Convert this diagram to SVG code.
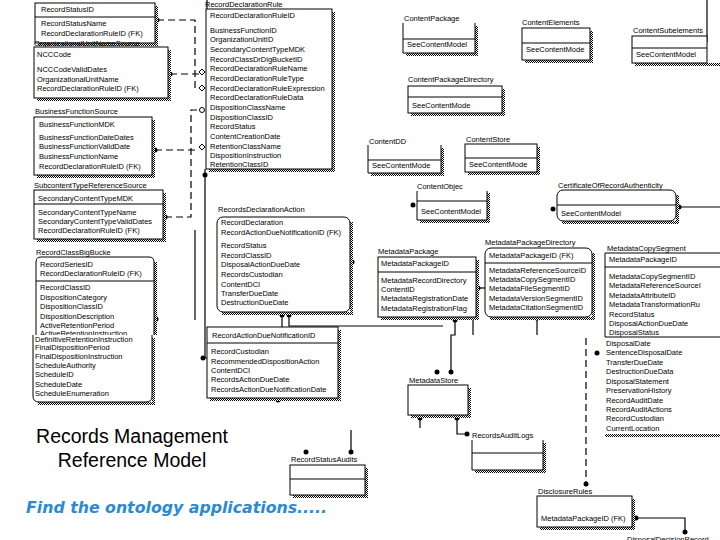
<svg xmlns="http://www.w3.org/2000/svg" width="720" height="540" viewBox="0 0 720 540">
<defs>
<pattern id="hatch" width="2" height="2" patternUnits="userSpaceOnUse"><rect width="2" height="2" fill="#fff"/><rect width="1" height="1" fill="#000"/><rect x="1" y="1" width="1" height="1" fill="#000"/></pattern>
</defs>
<style>
.b{fill:#fff;stroke:#000;stroke-width:1}
.h{fill:url(#hatch)}
.ln{stroke:#000;stroke-width:1;fill:none}
.t{font-family:"Liberation Sans",Arial,sans-serif;font-size:7.5px;fill:#000}
.c{stroke:#000;stroke-width:1.2;fill:none}
.d{stroke:#000;stroke-width:1.2;fill:none;stroke-dasharray:7,4}
.dot{fill:#000}
.hol{fill:#fff;stroke:#000;stroke-width:1}
.big{font-family:"Liberation Sans",Arial,sans-serif;font-size:19.5px;fill:#000;text-anchor:middle}
.blue{font-family:"DejaVu Sans",Verdana,sans-serif;font-size:16px;font-weight:bold;font-style:italic;fill:#2a8ad6}
</style>
<rect width="720" height="540" fill="#fff"/>

<g id="connectors">
<path class="d" d="M157,20 H195 V88 H201"/>
<path class="d" d="M170,74 H199"/>
<path class="d" d="M155,150 H199"/>
<path class="d" d="M165,217 H191 V110 H199"/>
<path class="c" d="M207,0 V9"/>
<path class="c" d="M205,169 V358 H207"/>
<path class="c" d="M195,230 V320"/>
<path class="c" d="M282,316 V328 H275 V334"/>
<path class="c" d="M289,316 V326 H443"/>
<path class="c" d="M455,319 V335 H451 V372"/>
<path class="c" d="M473,319 V335"/>
<path class="c" d="M476,288 H485"/>
<path class="c" d="M537,318 V335"/>
<path class="d" d="M586,338 V484"/>
<path class="c" d="M679,207 H720"/>
<path class="c" d="M707,0 V42"/>
<path class="c" d="M420,418 V428"/>
<path class="c" d="M457,418 V434 H467"/>
<path class="c" d="M351,430 V452"/>
<path class="c" d="M636,518 H685 V532"/>
<circle class="dot" cx="157" cy="20" r="2.5"/>
<circle class="dot" cx="170" cy="74" r="2.5"/>
<circle class="dot" cx="155" cy="150" r="2.5"/>
<circle class="dot" cx="165" cy="217" r="2.5"/>
<circle class="dot" cx="156" cy="319" r="2.5"/>
<circle class="dot" cx="205" cy="175" r="2.5"/>
<circle class="dot" cx="203" cy="358" r="2.5"/>
<circle class="dot" cx="352" cy="262" r="2.5"/>
<circle class="dot" cx="282" cy="315" r="2.5"/>
<circle class="dot" cx="289" cy="315" r="2.5"/>
<circle class="dot" cx="278" cy="400" r="2.5"/>
<circle class="dot" cx="455" cy="320" r="2.5"/>
<circle class="dot" cx="478" cy="288" r="2.5"/>
<circle class="dot" cx="537" cy="318" r="2.5"/>
<circle class="dot" cx="413" cy="205" r="2.5"/>
<circle class="dot" cx="553" cy="209" r="2.5"/>
<circle class="dot" cx="679" cy="207" r="2.5"/>
<circle class="dot" cx="597" cy="353" r="2.5"/>
<circle class="dot" cx="437" cy="372" r="2.5"/>
<circle class="dot" cx="451" cy="372" r="2.5"/>
<circle class="dot" cx="420" cy="418" r="2.5"/>
<circle class="dot" cx="457" cy="418" r="2.5"/>
<circle class="dot" cx="467" cy="434" r="2.5"/>
<circle class="dot" cx="306" cy="452" r="2.5"/>
<circle class="dot" cx="351" cy="452" r="2.5"/>
<circle class="dot" cx="586" cy="484" r="2.5"/>
<circle class="dot" cx="636" cy="518" r="2.5"/>
<circle class="dot" cx="685" cy="532" r="2.5"/>
<path class="hol" d="M199,72 l3,-3 l3,3 l-3,3 z"/>
<path class="hol" d="M199,88 l3,-3 l3,3 l-3,3 z"/>
<circle class="hol" cx="202" cy="110" r="2.5"/>
<path class="hol" d="M199,147 l3,-3 l3,3 l-3,3 z"/>
</g>

<g id="RecordStatus">
<rect class="h" x="155" y="6" width="3" height="40"/><rect class="h" x="38" y="43" width="120" height="3"/>
<rect class="b" x="35" y="3" width="120" height="40"/>
<line class="ln" x1="35" y1="17" x2="155" y2="17"/>
<text class="t" x="41" y="12">RecordStatusID</text>
<text class="t" x="41" y="26">RecordStatusName</text>
<text class="t" x="41" y="36">RecordDeclarationRuleID (FK)</text>
</g>

<g id="OrganizationalUnitNameSource">
<text class="t" x="34" y="46">OrganizationalUnitNameSource</text>
<rect class="h" x="168" y="50" width="3" height="51"/><rect class="h" x="37" y="98" width="134" height="3"/>
<rect class="b" x="34" y="47" width="134" height="51"/>
<text class="t" x="37" y="57">NCCCode</text>
<text class="t" x="37" y="72">NCCCodeValidDates</text>
<text class="t" x="37" y="82">OrganizationalUnitName</text>
<text class="t" x="37" y="91">RecordDeclarationRuleID (FK)</text>
</g>

<g id="BusinessFunctionSource">
<text class="t" x="35" y="114">BusinessFunctionSource</text>
<rect class="h" x="152" y="120" width="3" height="58"/><rect class="h" x="37" y="175" width="118" height="3"/>
<rect class="b" x="34" y="117" width="118" height="58"/>
<text class="t" x="39" y="127">BusinessFunctionMDK</text>
<text class="t" x="39" y="140">BusinessFunctionDateDates</text>
<text class="t" x="39" y="149">BusinessFunctionValidDate</text>
<text class="t" x="39" y="159">BusinessFunctionName</text>
<text class="t" x="39" y="169">RecordDeclarationRuleID (FK)</text>
</g>

<g id="RecordDeclarationRule">
<text class="t" x="205" y="7">RecordDeclarationRule</text>
<rect class="h" x="332" y="12" width="3" height="160"/><rect class="h" x="209" y="169" width="126" height="3"/>
<rect class="b" x="206" y="9" width="126" height="160"/>
<text class="t" x="210" y="18">RecordDeclarationRuleID</text>
<text class="t" x="210" y="33">BusinessFunctionID</text>
<text class="t" x="210" y="42">OrganizationUnitID</text>
<text class="t" x="210" y="52">SecondaryContentTypeMDK</text>
<text class="t" x="210" y="62">RecordClassDrDigBucketID</text>
<text class="t" x="210" y="71">RecordDeclarationRuleName</text>
<text class="t" x="210" y="81">RecordDeclarationRuleType</text>
<text class="t" x="210" y="91">RecordDeclarationRuleExpression</text>
<text class="t" x="210" y="100">RecordDeclarationRuleData</text>
<text class="t" x="210" y="110">DispositionClassName</text>
<text class="t" x="210" y="120">DispositionClassID</text>
<text class="t" x="210" y="129">RecordStatus</text>
<text class="t" x="210" y="139">ContentCreationDate</text>
<text class="t" x="210" y="149">RetentionClassName</text>
<text class="t" x="210" y="158">DispositionInstruction</text>
<text class="t" x="210" y="167">RetentionClassID</text>
</g>

<g id="SubcontentTypeReferenceSource">
<text class="t" x="34" y="188">SubcontentTypeReferenceSource</text>
<rect class="h" x="163" y="193" width="3" height="49"/><rect class="h" x="37" y="239" width="129" height="3"/>
<rect class="b" x="34" y="190" width="129" height="49"/>
<line class="ln" x1="34" y1="204" x2="163" y2="204"/>
<text class="t" x="38" y="201">SecondaryContentTypeMDK</text>
<text class="t" x="38" y="215">SecondaryContentTypeName</text>
<text class="t" x="38" y="224">SecondaryContentTypeValidDates</text>
<text class="t" x="38" y="233">RecordDeclarationRuleID (FK)</text>
</g>

<g id="RecordClassBigBucket">
<text class="t" x="36" y="255">RecordClassBigBucke</text>
<rect class="h" x="154" y="262" width="3" height="73"/>
<path class="b" d="M36,335 V262 Q36,257 41,257 H149 Q154,257 154,262 V335"/>
<line class="ln" x1="36" y1="281" x2="154" y2="281"/>
<text class="t" x="40" y="267">RecordSeriesID</text>
<text class="t" x="40" y="276">RecordDeclarationRuleID (FK)</text>
<text class="t" x="40" y="290">RecordClassID</text>
<text class="t" x="40" y="300">DispositionCategory</text>
<text class="t" x="40" y="309">DispositionClassID</text>
<text class="t" x="40" y="319">DispositionDescription</text>
<text class="t" x="40" y="328">ActiveRetentionPeriod</text>
<text class="t" x="40" y="335.5">ActiveRetentionInstruction</text>
<rect class="h" x="152" y="338" width="3" height="67"/><rect class="h" x="38" y="402" width="117" height="3"/>
<path class="b" d="M33,335 V396 Q33,402 39,402 H146 Q152,402 152,396 V335"/>
<text class="t" x="35" y="342">DefinitiveRetentionInstruction</text>
<text class="t" x="35" y="350">FinalDispositionPeriod</text>
<text class="t" x="35" y="359">FinalDispositionInstruction</text>
<text class="t" x="35" y="368">ScheduleAuthority</text>
<text class="t" x="35" y="377">ScheduleID</text>
<text class="t" x="35" y="387">ScheduleDate</text>
<text class="t" x="35" y="396">ScheduleEnumeration</text>
</g>

<g id="RecordsDeclarationAction">
<text class="t" x="218" y="212">RecordsDeclarationAction</text>
<rect class="h" x="350" y="222" width="3" height="93"/><rect class="h" x="222" y="312" width="131" height="3"/>
<rect class="b" x="217" y="217" width="133" height="95" rx="6"/>
<text class="t" x="221" y="225">RecordDeclaration</text>
<text class="t" x="221" y="235">RecordActionDueNotificationID (FK)</text>
<text class="t" x="221" y="248">RecordStatus</text>
<text class="t" x="221" y="258">RecordClassID</text>
<text class="t" x="221" y="267">DisposalActionDueDate</text>
<text class="t" x="221" y="277">RecordsCustodian</text>
<text class="t" x="221" y="287">ContentDCI</text>
<text class="t" x="221" y="296">TransferDueDate</text>
<text class="t" x="221" y="305">DestructionDueDate</text>
</g>

<g id="RecordActionDueNotification">
<rect class="h" x="338" y="330" width="3" height="71"/><rect class="h" x="210" y="398" width="131" height="3"/>
<rect class="b" x="207" y="327" width="131" height="71"/>
<line class="ln" x1="207" y1="343" x2="338" y2="343"/>
<text class="t" x="212" y="338">RecordActionDueNotificationID</text>
<text class="t" x="211" y="354">RecordCustodian</text>
<text class="t" x="211" y="364">RecommendedDispositionAction</text>
<text class="t" x="211" y="373">ContentDCI</text>
<text class="t" x="211" y="382">RecordsActionDueDate</text>
<text class="t" x="211" y="392">RecordsActionDueNotificationDate</text>
</g>

<g id="ContentPackage">
<text class="t" x="404" y="21">ContentPackage</text>
<rect class="h" x="475" y="26" width="3" height="30"/><rect class="h" x="406" y="53" width="72" height="3"/>
<path class="b" d="M403,23 V53 H475 V23"/>
<line class="ln" x1="403" y1="39" x2="475" y2="39"/>
<text class="t" x="407" y="47">SeeContentModel</text>
</g>

<g id="ContentElements">
<text class="t" x="522" y="25">ContentElements</text>
<rect class="h" x="590" y="31" width="3" height="30"/><rect class="h" x="525" y="60" width="68" height="3"/>
<rect class="b" x="522" y="28" width="68" height="32"/>
<line class="ln" x1="522" y1="43" x2="590" y2="43"/>
<text class="t" x="526" y="52">SeeContentMode</text>
</g>

<g id="ContentSubelements">
<text class="t" x="633" y="33">ContentSubelements</text>
<rect class="h" x="635" y="63" width="85" height="3"/>
<rect class="b" x="632" y="36" width="75" height="27"/>
<line class="ln" x1="632" y1="48" x2="707" y2="48"/>
<text class="t" x="636" y="57">SeeContentModel</text>
</g>

<g id="ContentPackageDirectory">
<text class="t" x="408" y="82">ContentPackageDirectory</text>
<rect class="h" x="502" y="89" width="3" height="27"/><rect class="h" x="411" y="113" width="94" height="3"/>
<rect class="b" x="408" y="86" width="94" height="27"/>
<line class="ln" x1="408" y1="97" x2="502" y2="97"/>
<text class="t" x="412" y="108">SeeContentMode</text>
</g>

<g id="ContentDD">
<text class="t" x="369" y="144">ContentDD</text>
<rect class="h" x="441" y="148" width="3" height="28"/><rect class="h" x="371" y="173" width="73" height="3"/>
<path class="b" d="M368,145 V173 H441 V145"/>
<line class="ln" x1="368" y1="160" x2="441" y2="160"/>
<text class="t" x="372" y="168">SeeContentMode</text>
</g>

<g id="ContentStore">
<text class="t" x="466" y="142">ContentStore</text>
<rect class="h" x="537" y="147" width="3" height="28"/><rect class="h" x="468" y="172" width="72" height="3"/>
<rect class="b" x="465" y="144" width="72" height="28"/>
<line class="ln" x1="465" y1="158" x2="537" y2="158"/>
<text class="t" x="469" y="167">SeeContentMode</text>
</g>

<g id="ContentObject">
<text class="t" x="417" y="189">ContentObjec</text>
<rect class="h" x="487" y="193" width="3" height="30"/><rect class="h" x="420" y="220" width="70" height="3"/>
<path class="b" d="M417,191 V220 H487 V191"/>
<line class="ln" x1="417" y1="201" x2="487" y2="201"/>
<text class="t" x="421" y="214">SeeContentModel</text>
</g>

<g id="CertificateOfRecordAuthenticity">
<text class="t" x="558" y="188">CertificateOfRecordAuthenticity</text>
<rect class="h" x="676" y="195" width="3" height="29"/><rect class="h" x="562" y="221" width="117" height="3"/>
<rect class="b" x="557" y="190" width="119" height="31" rx="6"/>
<line class="ln" x1="557" y1="205" x2="676" y2="205"/>
<text class="t" x="561" y="216">SeeContentModel</text>
</g>

<g id="MetadataPackage">
<text class="t" x="378" y="254">MetadataPackage</text>
<rect class="h" x="476" y="260" width="3" height="60"/><rect class="h" x="381" y="317" width="98" height="3"/>
<rect class="b" x="378" y="257" width="98" height="60"/>
<line class="ln" x1="378" y1="272" x2="476" y2="272"/>
<text class="t" x="381" y="266">MetadataPackageID</text>
<text class="t" x="381" y="283">MetadataRecordDirectory</text>
<text class="t" x="381" y="292">ContentID</text>
<text class="t" x="381" y="301">MetadataRegistrationDate</text>
<text class="t" x="381" y="311">MetadataRegistrationFlag</text>
</g>

<g id="MetadataPackageDirectory">
<text class="t" x="485" y="245">MetadataPackageDirectory</text>
<rect class="h" x="592" y="253" width="3" height="67"/><rect class="h" x="490" y="317" width="105" height="3"/>
<rect class="b" x="485" y="248" width="107" height="69" rx="6"/>
<line class="ln" x1="485" y1="263" x2="592" y2="263"/>
<text class="t" x="489" y="258">MetadataPackageID (FK)</text>
<text class="t" x="489" y="273">MetadataReferenceSourceID</text>
<text class="t" x="489" y="282">MetadataCopySegmentID</text>
<text class="t" x="489" y="291">MetadataFileSegmentID</text>
<text class="t" x="489" y="301">MetadataVersionSegmentID</text>
<text class="t" x="489" y="310">MetadataCitationSegmentID</text>
</g>

<g id="MetadataCopySegment">
<text class="t" x="607" y="251">MetadataCopySegment</text>
<rect class="h" x="605" y="434" width="115" height="3"/>
<path class="b" d="M721,253 H605 V337 H721"/>
<line class="ln" x1="605" y1="267" x2="721" y2="267"/>
<text class="t" x="609" y="262">MetadataPackageID</text>
<text class="t" x="609" y="279">MetadataCopySegmentID</text>
<text class="t" x="609" y="288">MetadataReferenceSourceI</text>
<text class="t" x="609" y="298">MetadataAttributeID</text>
<text class="t" x="609" y="307">MetadataTransformationRu</text>
<text class="t" x="609" y="317">RecordStatus</text>
<text class="t" x="609" y="326">DisposalActionDueDate</text>
<text class="t" x="609" y="335">DisposalStatus</text>
<text class="t" x="606" y="346">DisposalDate</text>
<text class="t" x="606" y="355">SentenceDisposalDate</text>
<text class="t" x="606" y="365">TransferDueDate</text>
<text class="t" x="606" y="374">DestructionDueData</text>
<text class="t" x="606" y="384">DisposalStatement</text>
<text class="t" x="606" y="393">PreservationHistory</text>
<text class="t" x="606" y="403">RecordAuditDate</text>
<text class="t" x="606" y="412">RecordAuditActions</text>
<text class="t" x="606" y="421">RecordCustodian</text>
<text class="t" x="606" y="431">CurrentLocation</text>
</g>

<g id="MetadataStore">
<text class="t" x="409" y="383">MetadataStore</text>
<rect class="h" x="468" y="388" width="3" height="30"/><rect class="h" x="411" y="415" width="60" height="3"/>
<rect class="b" x="408" y="385" width="60" height="30"/>
</g>

<g id="RecordsAuditLogs">
<text class="t" x="472" y="438">RecordsAuditLogs</text>
<rect class="h" x="543" y="443" width="3" height="30"/><rect class="h" x="475" y="470" width="71" height="3"/>
<path class="b" d="M472,440 V470 H543 V440"/>
<line class="ln" x1="472" y1="453" x2="543" y2="453"/>
</g>

<g id="RecordStatusAudits">
<text class="t" x="291" y="462">RecordStatusAudits</text>
<rect class="h" x="365" y="468" width="3" height="30"/><rect class="h" x="293" y="495" width="75" height="3"/>
<rect class="b" x="290" y="465" width="75" height="30"/>
<line class="ln" x1="290" y1="479" x2="365" y2="479"/>
</g>

<g id="DisclosureRules">
<text class="t" x="538" y="494">DisclosureRules</text>
<rect class="h" x="632" y="499" width="3" height="31"/><rect class="h" x="540" y="527" width="95" height="3"/>
<rect class="b" x="537" y="496" width="95" height="31"/>
<text class="t" x="541" y="521">MetadataPackageID (FK)</text>
</g>

<g id="DisposalDecisionRecord">
<text class="t" x="627" y="542">DisposalDecisionRecord</text>
</g>

<g id="title">
<text class="big" x="132" y="443">Records Management</text>
<text class="big" x="132" y="467">Reference Model</text>
<text class="blue" x="26" y="513" textLength="301" lengthAdjust="spacingAndGlyphs">Find the ontology applications.....</text>
</g>
</svg>
